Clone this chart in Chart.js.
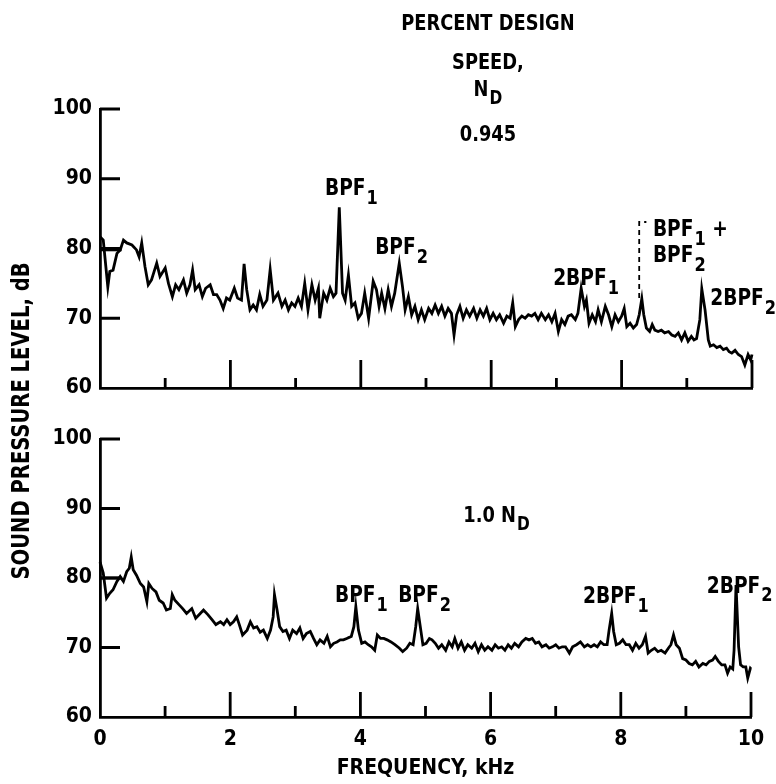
<!DOCTYPE html>
<html>
<head>
<meta charset="utf-8">
<script src="https://cdn.jsdelivr.net/npm/chart.js@4.4.0/dist/chart.umd.min.js"></script>
<style>
    html, body { margin: 0; padding: 0; background: #fff; }
    #wrap { position: relative; width: 776px; height: 784px; }
    #wrap canvas { position: absolute; left: 0; top: 0; }
</style>
</head>
<body>
<div id="wrap">
    <canvas id="topChart" width="776" height="784"></canvas>
    <canvas id="bottomChart" width="776" height="784"></canvas>
</div>
<script>
// ---- data (frequency in kHz, level in dB) ----
const topFreq = [
    0, 0.05, 0.12, 0.15, 0.20, 0.26, 0.31, 0.36, 0.41, 0.49,
    0.56, 0.60, 0.64, 0.69, 0.74, 0.79, 0.87, 0.92, 1.00, 1.05,
    1.11, 1.16, 1.21, 1.28, 1.33, 1.38, 1.42, 1.46, 1.52, 1.57,
    1.62, 1.69, 1.74, 1.79, 1.84, 1.89, 1.94, 1.99, 2.06, 2.11,
    2.17, 2.21, 2.25, 2.30, 2.35, 2.40, 2.45, 2.50, 2.56, 2.61,
    2.66, 2.73, 2.79, 2.84, 2.89, 2.94, 2.99, 3.04, 3.09, 3.14,
    3.19, 3.25, 3.30, 3.35, 3.37, 3.43, 3.48, 3.53, 3.58, 3.62,
    3.67, 3.72, 3.76, 3.81, 3.86, 3.91, 3.96, 4.01, 4.06, 4.12,
    4.19, 4.24, 4.28, 4.32, 4.37, 4.42, 4.47, 4.52, 4.59, 4.64,
    4.68, 4.73, 4.78, 4.83, 4.88, 4.93, 4.98, 5.04, 5.09, 5.14,
    5.19, 5.24, 5.29, 5.34, 5.39, 5.43, 5.47, 5.52, 5.57, 5.62,
    5.67, 5.73, 5.78, 5.83, 5.88, 5.93, 5.98, 6.03, 6.08, 6.13,
    6.19, 6.24, 6.29, 6.33, 6.37, 6.42, 6.47, 6.52, 6.57, 6.62,
    6.67, 6.72, 6.77, 6.83, 6.88, 6.93, 6.98, 7.03, 7.08, 7.13,
    7.18, 7.23, 7.29, 7.33, 7.38, 7.43, 7.46, 7.50, 7.55, 7.60,
    7.64, 7.69, 7.75, 7.80, 7.85, 7.90, 7.95, 8.00, 8.04, 8.08,
    8.13, 8.18, 8.23, 8.27, 8.31, 8.34, 8.38, 8.43, 8.47, 8.51,
    8.56, 8.61, 8.66, 8.72, 8.77, 8.82, 8.87, 8.92, 8.97, 9.02,
    9.07, 9.11, 9.15, 9.20, 9.23, 9.28, 9.33, 9.36, 9.41, 9.46,
    9.51, 9.56, 9.61, 9.65, 9.69, 9.74, 9.79, 9.84, 9.89, 9.94,
    9.98, 10.0
]
const topLevel = [
    81.7, 81.2, 74.5, 76.7, 76.9, 79.3, 79.8, 81.2, 80.8, 80.5,
    79.8, 78.8, 80.8, 77.4, 74.8, 75.5, 77.9, 76.0, 77.2, 75.0,
    73.1, 74.8, 74.1, 75.5, 73.6, 74.8, 76.9, 74.1, 74.8, 73.1,
    74.3, 74.8, 73.4, 73.4, 72.6, 71.4, 72.9, 72.6, 74.3, 72.9,
    72.6, 77.8, 74.1, 71.2, 71.9, 71.2, 73.4, 71.7, 72.6, 77.0,
    72.6, 73.6, 71.7, 72.6, 71.2, 72.2, 71.7, 72.9, 71.7, 75.0,
    71.2, 74.8, 72.6, 74.3, 70.0, 73.6, 72.6, 74.3, 73.1, 73.6,
    85.9, 73.6, 72.6, 76.2, 71.7, 72.2, 70.0, 70.7, 73.6, 70.0,
    75.3, 74.1, 71.7, 73.6, 71.4, 74.1, 71.7, 73.6, 77.9, 74.5,
    71.2, 73.1, 70.5, 71.7, 69.8, 71.2, 69.8, 71.4, 70.7, 71.9,
    70.7, 71.7, 70.3, 71.4, 70.7, 67.6, 70.5, 71.7, 70.0, 71.2,
    70.3, 71.4, 70.0, 71.2, 70.3, 71.4, 69.8, 70.7, 69.8, 70.5,
    69.3, 70.3, 70.0, 72.2, 68.8, 69.8, 70.3, 70.0, 70.5, 70.3,
    70.7, 69.8, 70.7, 69.8, 70.5, 69.5, 70.7, 68.1, 69.8, 69.1,
    70.3, 70.5, 69.8, 70.7, 74.3, 71.7, 72.6, 69.3, 70.5, 69.5,
    71.2, 69.5, 71.7, 70.5, 68.8, 70.5, 69.5, 70.3, 71.4, 68.8,
    69.3, 68.6, 69.1, 70.5, 72.8, 70.5, 68.6, 68.1, 69.1, 68.3,
    68.1, 68.3, 67.9, 68.1, 67.6, 67.4, 67.9, 66.9, 67.9, 66.7,
    67.4, 66.9, 67.1, 69.8, 74.2, 71.2, 66.9, 66.0, 66.2, 65.8,
    66.0, 65.5, 65.7, 65.2, 65.0, 65.4, 64.8, 64.5, 63.3, 64.8,
    64.0, 64.8
]

const bottomFreq = [
    0, 0.05, 0.10, 0.15, 0.20, 0.26, 0.31, 0.36, 0.41, 0.45,
    0.48, 0.51, 0.56, 0.62, 0.67, 0.72, 0.75, 0.80, 0.86, 0.91,
    0.97, 1.02, 1.08, 1.11, 1.15, 1.22, 1.27, 1.33, 1.41, 1.47,
    1.54, 1.59, 1.66, 1.72, 1.78, 1.85, 1.90, 1.95, 2.00, 2.05,
    2.10, 2.14, 2.19, 2.26, 2.31, 2.36, 2.41, 2.46, 2.51, 2.57,
    2.62, 2.66, 2.68, 2.72, 2.76, 2.81, 2.86, 2.91, 2.96, 3.02,
    3.07, 3.12, 3.17, 3.23, 3.28, 3.33, 3.38, 3.44, 3.49, 3.54,
    3.59, 3.64, 3.69, 3.74, 3.79, 3.86, 3.90, 3.93, 3.97, 4.02,
    4.07, 4.12, 4.17, 4.22, 4.26, 4.31, 4.36, 4.41, 4.47, 4.53,
    4.60, 4.65, 4.71, 4.76, 4.81, 4.85, 4.88, 4.92, 4.96, 5.01,
    5.06, 5.10, 5.15, 5.20, 5.25, 5.31, 5.36, 5.41, 5.45, 5.50,
    5.55, 5.60, 5.65, 5.71, 5.76, 5.81, 5.86, 5.91, 5.96, 6.02,
    6.07, 6.12, 6.17, 6.22, 6.27, 6.32, 6.37, 6.43, 6.48, 6.54,
    6.59, 6.64, 6.69, 6.74, 6.79, 6.85, 6.90, 6.95, 7.00, 7.05,
    7.10, 7.15, 7.21, 7.26, 7.32, 7.38, 7.44, 7.49, 7.54, 7.59,
    7.64, 7.69, 7.74, 7.79, 7.82, 7.86, 7.89, 7.93, 7.98, 8.03,
    8.08, 8.13, 8.18, 8.23, 8.28, 8.33, 8.38, 8.42, 8.47, 8.52,
    8.57, 8.62, 8.68, 8.73, 8.77, 8.81, 8.85, 8.90, 8.95, 9.00,
    9.05, 9.10, 9.15, 9.20, 9.26, 9.31, 9.36, 9.41, 9.45, 9.50,
    9.55, 9.60, 9.64, 9.68, 9.72, 9.74, 9.77, 9.81, 9.84, 9.88,
    9.92, 9.95, 9.99, 10.0
]
const bottomLevel = [
    82.3, 80.7, 77.1, 77.8, 78.3, 79.5, 80.2, 79.5, 80.9, 81.4,
    83.0, 81.2, 80.4, 79.2, 78.7, 76.6, 79.2, 78.5, 78.0, 76.8,
    76.4, 75.4, 75.6, 77.6, 76.8, 76.1, 75.6, 74.9, 75.6, 74.2,
    74.9, 75.4, 74.7, 74.0, 73.3, 73.7, 73.3, 74.0, 73.3, 73.7,
    74.4, 73.3, 71.8, 72.5, 73.7, 72.8, 73.0, 72.2, 72.5, 71.3,
    72.5, 74.4, 77.6, 75.4, 73.0, 72.3, 72.5, 71.3, 72.5, 72.0,
    72.8, 71.3, 72.0, 72.3, 71.3, 70.4, 71.1, 70.6, 71.6, 70.1,
    70.6, 70.8, 71.1, 71.1, 71.3, 71.6, 73.0, 75.9, 72.5, 70.6,
    70.8, 70.4, 70.1, 69.6, 71.8, 71.3, 71.3, 71.1, 70.8, 70.4,
    69.9, 69.4, 69.9, 70.6, 70.4, 73.0, 75.6, 73.0, 70.4, 70.6,
    71.3, 71.1, 70.6, 69.9, 70.4, 69.6, 70.8, 70.1, 71.3, 69.9,
    70.8, 69.6, 70.4, 69.9, 70.6, 69.4, 70.4, 69.6, 70.1, 69.6,
    70.4, 69.9, 70.1, 69.6, 70.4, 69.9, 70.6, 70.1, 70.8, 71.3,
    71.1, 71.3, 70.6, 70.8, 70.1, 70.4, 69.9, 70.1, 70.4, 69.9,
    70.1, 70.1, 69.2, 70.1, 70.4, 70.8, 70.1, 70.4, 70.1, 70.4,
    70.1, 70.8, 70.4, 70.4, 72.5, 74.9, 72.3, 70.4, 70.6, 71.1,
    70.4, 70.4, 69.6, 70.6, 69.9, 70.4, 71.6, 69.2, 69.6, 69.9,
    69.4, 69.6, 69.2, 69.9, 70.4, 71.8, 70.4, 69.9, 68.4, 68.2,
    67.7, 67.5, 68.0, 67.2, 67.7, 67.5, 68.0, 68.2, 68.7, 68.0,
    67.5, 67.5, 66.3, 67.2, 66.9, 69.6, 79.0, 70.1, 67.5, 67.2,
    67.2, 65.6, 67.0, 66.9
]

// short flat trace at the start of each record
const topFlatFreq = [ 0, 0.33 ]
const topFlatLevel = [ 79.8, 79.8 ]
const bottomFlatFreq = [ 0, 0.34 ]
const bottomFlatLevel = [ 80.0, 80.0 ]

// dashed leader from the BPF1 + BPF2 peak up to its label
const leaderFreq = [ 8.27, 8.27, 8.38 ]
const leaderLevel = [ 72.9, 83.8, 83.8 ]

const yTickValues = [ 60, 70, 80, 90, 100 ]
const yMarks = [ 70, 80, 90, 100 ]
const xMajorMarks = [ 2, 4, 6, 8, 10 ]
const xMinorMarks = [ 1, 3, 5, 7, 9 ]

const FONT = '"DejaVu Sans Condensed", "DejaVu Sans", sans-serif'
const SQUEEZE = 0.9   // the lettering on the original is narrower than any installed face

const toPoints = ( xs, ys ) => xs.map( ( v, i ) => ( { x: v, y: ys[ i ] } ) )

// ---- plugins ----
const inwardTicks = {
    id: 'inwardTicks',
    afterDraw ( chart, args, opts ) {
        const { ctx, scales: { x, y } } = chart
        const base = y.getPixelForValue( 60 )
        const left = x.getPixelForValue( 0 )
        ctx.save()
        ctx.strokeStyle = '#000'
        ctx.lineWidth = 2.8
        ctx.beginPath()
        yMarks.forEach( v => {
            const py = y.getPixelForValue( v )
            ctx.moveTo( left, py )
            ctx.lineTo( left + opts.yLength, py )
        } )
        xMajorMarks.forEach( v => {
            const px = x.getPixelForValue( v )
            ctx.moveTo( px, base )
            ctx.lineTo( px, base - opts.majorLength )
        } )
        xMinorMarks.forEach( v => {
            const px = x.getPixelForValue( v )
            ctx.moveTo( px, base )
            ctx.lineTo( px, base - opts.minorLength )
        } )
        ctx.stroke()
        ctx.restore()
    }
}

function drawSqueezed ( ctx, text, px, py ) {
    ctx.save()
    ctx.translate( px, py )
    ctx.scale( SQUEEZE, 1 )
    ctx.fillText( text, 0, 0 )
    ctx.restore()
}

const notesPlugin = {
    id: 'notes',
    afterDraw ( chart, args, opts ) {
        const { ctx, scales: { x, y } } = chart
        ctx.save()
        ctx.fillStyle = '#000'
        ctx.textBaseline = 'alphabetic'
        ctx.textAlign = 'left'
        opts.items.forEach( note => {
            const size = note.size || 23
            const mainFont = `bold ${ size }px ${ FONT }`
            const subFont = `bold ${ Math.round( size * 0.86 ) }px ${ FONT }`
            ctx.font = mainFont
            const w1 = ctx.measureText( note.text ).width * SQUEEZE
            const w3 = note.tail ? ctx.measureText( note.tail ).width * SQUEEZE : 0
            ctx.font = subFont
            const w2 = note.sub ? ctx.measureText( note.sub ).width * SQUEEZE + 1 : 0
            let px = x.getPixelForValue( note.x )
            if ( note.align === 'center' ) px -= ( w1 + w2 + w3 ) / 2
            const base = y.getPixelForValue( note.y ) + size * 0.36
            ctx.font = mainFont
            drawSqueezed( ctx, note.text, px, base )
            if ( note.sub ) {
                ctx.font = subFont
                drawSqueezed( ctx, note.sub, px + w1 + 1, base + size * 0.38 )
            }
            if ( note.tail ) {
                ctx.font = mainFont
                drawSqueezed( ctx, note.tail, px + w1 + w2, base )
            }
        } )
        if ( opts.yTitle ) {
            const t = opts.yTitle
            ctx.translate( t.left, t.middle )
            ctx.rotate( -Math.PI / 2 )
            ctx.scale( 0.87, 1 )
            ctx.font = `bold ${ t.size }px ${ FONT }`
            ctx.textAlign = 'center'
            ctx.textBaseline = 'middle'
            ctx.fillText( t.text, 0, 0 )
        }
        ctx.restore()
    }
}

function buildChart ( canvasId, box, datasets, notes, extra ) {
    return new Chart( document.getElementById( canvasId ), {
        type: 'line',
        data: { datasets },
        plugins: [ inwardTicks, notesPlugin ],
        options: {
            responsive: false,
            animation: false,
            devicePixelRatio: 1,
            layout: { padding: { top: box.top, right: 776 - box.right, left: 0, bottom: 0 } },
            elements: { point: { radius: 0 }, line: { tension: 0 } },
            scales: {
                x: {
                    type: 'linear',
                    min: 0,
                    max: 10,
                    afterFit: s => { s.height = 784 - box.bottom },
                    grid: { display: false, drawTicks: false },
                    border: { display: true, color: '#000', width: 2.8 },
                    ticks: {
                        display: extra.xLabels,
                        stepSize: 2,
                        padding: 10,
                        color: '#000',
                        font: { size: 21, weight: 'bold', family: FONT }
                    },
                    title: {
                        display: extra.xLabels,
                        text: 'FREQUENCY, kHz',
                        color: '#000',
                        padding: { top: 0, bottom: 3 },
                        font: { size: 21, weight: 'bold', family: FONT }
                    }
                },
                y: {
                    type: 'linear',
                    min: 60,
                    max: 100,
                    afterFit: s => { s.width = box.left },
                    afterBuildTicks: s => { s.ticks = yTickValues.map( v => ( { value: v } ) ) },
                    grid: { display: false, drawTicks: false },
                    border: { display: true, color: '#000', width: 2.8 },
                    ticks: {
                        padding: 8,
                        color: '#000',
                        font: { size: 21, weight: 'bold', family: FONT }
                    }
                }
            },
            plugins: {
                legend: { display: false },
                tooltip: { enabled: false },
                inwardTicks: extra.ticks,
                notes: { items: notes, yTitle: extra.yTitle }
            }
        }
    } )
}

const traceStyle = { borderColor: '#000', borderWidth: 2.8, fill: false, clip: false }

// ---- upper panel: 0.945 N_D ----
buildChart( 'topChart',
    { top: 109, bottom: 388, left: 100, right: 752 },
    [
        { ...traceStyle, label: '0.945 ND', data: toPoints( topFreq, topLevel ) },
        { ...traceStyle, label: 'start', data: toPoints( topFlatFreq, topFlatLevel ) },
        { ...traceStyle, label: 'leader', borderWidth: 1.8, borderDash: [ 5, 4 ], data: toPoints( leaderFreq, leaderLevel ) }
    ],
    [
        { x: 5.95, y: 112.5, text: 'PERCENT DESIGN', align: 'center', size: 22 },
        { x: 5.95, y: 106.9, text: 'SPEED,', align: 'center', size: 22 },
        { x: 5.95, y: 103.0, text: 'N', sub: 'D', align: 'center', size: 22 },
        { x: 5.95, y: 96.6, text: '0.945', align: 'center', size: 22 },
        { x: 3.45, y: 88.8, text: 'BPF', sub: '1' },
        { x: 4.22, y: 80.4, text: 'BPF', sub: '2' },
        { x: 6.95, y: 75.9, text: '2BPF', sub: '1' },
        { x: 8.48, y: 83.0, text: 'BPF', sub: '1', tail: ' +' },
        { x: 8.48, y: 79.2, text: 'BPF', sub: '2' },
        { x: 9.36, y: 73.1, text: '2BPF', sub: '2' }
    ],
    { xLabels: false, ticks: { yLength: 20, majorLength: 28, minorLength: 10 } }
)

// ---- lower panel: 1.0 N_D ----
buildChart( 'bottomChart',
    { top: 439, bottom: 717, left: 100, right: 751 },
    [
        { ...traceStyle, label: '1.0 ND', data: toPoints( bottomFreq, bottomLevel ) },
        { ...traceStyle, label: 'start', data: toPoints( bottomFlatFreq, bottomFlatLevel ) }
    ],
    [
        { x: 5.58, y: 89.2, text: '1.0 N', sub: 'D', size: 22 },
        { x: 3.61, y: 77.7, text: 'BPF', sub: '1' },
        { x: 4.58, y: 77.7, text: 'BPF', sub: '2' },
        { x: 7.42, y: 77.6, text: '2BPF', sub: '1' },
        { x: 9.32, y: 79.1, text: '2BPF', sub: '2' }
    ],
    {
        xLabels: true,
        ticks: { yLength: 20, majorLength: 25, minorLength: 11 },
        yTitle: { text: 'SOUND PRESSURE LEVEL, dB', left: 22, middle: 421, size: 25 }
    }
)
</script>
</body>
</html>
